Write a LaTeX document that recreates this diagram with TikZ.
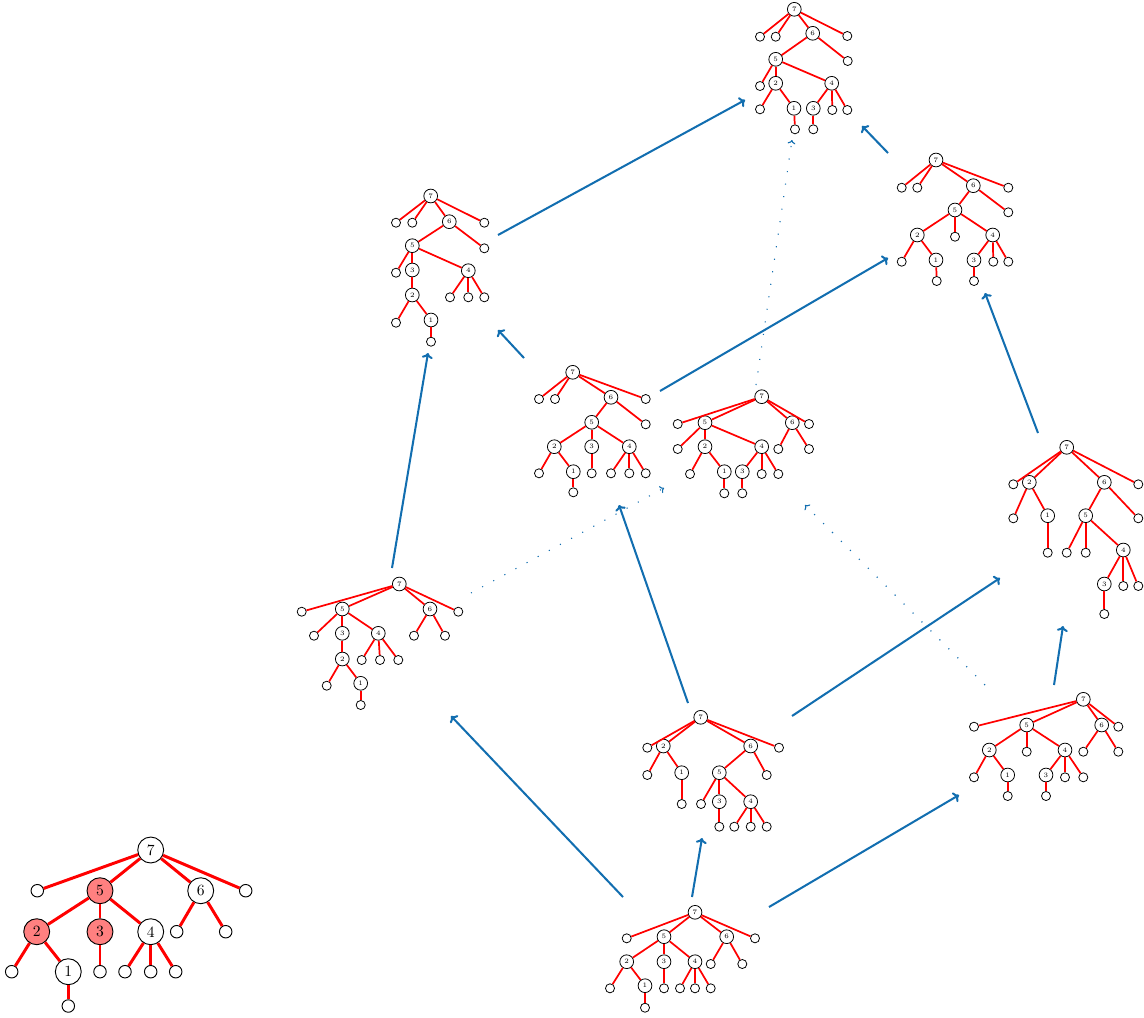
\documentclass[tikz,border=0pt]{standalone}
\usetikzlibrary{arrows.meta}
\definecolor{arrblue}{RGB}{18,110,176}
\tikzset{
  sn/.style={circle,draw,line width=0.5pt,minimum size=8.8pt,inner sep=0pt,fill=white,font=\fontsize{4.3}{5}\selectfont},
  sl/.style={circle,draw,line width=0.5pt,minimum size=5.8pt,inner sep=0pt,fill=white},
  bn/.style={circle,draw,line width=0.6pt,minimum size=16.6pt,inner sep=0pt,fill=white},
  bl/.style={circle,draw,line width=0.6pt,minimum size=8pt,inner sep=0pt,fill=white},
  hl/.style={fill=red!50},
  se/.style={red,line width=1.1pt},
  be/.style={red,line width=1.9pt},
  sarr/.style={arrblue,line width=1.3pt,-{To[length=3.5pt,width=7pt]}},
  darr/.style={arrblue,line width=0.7pt,dash pattern=on 0.7pt off 7.4pt,-{To[length=2.5pt,width=5pt]}},
}
\newcommand\mkN[4]{\node[sn] (#1) at (#2,#3) {#4};}
\newcommand\mkL[3]{\node[sl] (#1) at (#2,#3) {};}
\begin{document}
\begin{tikzpicture}[x=0.64pt,y=-0.64pt]
\useasboundingbox (0,0) rectangle (1144,1017);

% ---------- Tree T (top)
\mkN{T7}{794.3}{9.3}{7}
\mkL{Ta}{760}{36.7}
\mkL{Tb}{775.7}{36.7}
\mkN{T6}{812.7}{33.3}{6}
\mkL{Tc}{847.3}{36}
\mkN{T5}{775.7}{59.3}{5}
\mkL{Td}{847.7}{61}
\mkL{Te}{760}{86}
\mkN{T2}{775.7}{83.3}{2}
\mkN{T4}{831.7}{83.3}{4}
\mkL{Tf}{760}{109.3}
\mkN{T1}{794}{108.3}{1}
\mkN{T3}{813.3}{108.3}{3}
\mkL{Tg}{832.3}{110}
\mkL{Th}{847.3}{110}
\mkL{Ti}{795}{129.3}
\mkL{Tj}{813.3}{129.3}
\foreach \a/\b in {T7/Ta,T7/Tb,T7/T6,T7/Tc,T6/T5,T6/Td,T5/Te,T5/T2,T5/T4,T2/Tf,T2/T1,T1/Ti,T4/T3,T4/Tg,T4/Th,T3/Tj}
  \draw[se] (\a) -- (\b);

% ---------- Tree U (upper right)
\mkN{U7}{936}{160}{7}
\mkL{Ua}{901.7}{187.7}
\mkL{Ub}{917.3}{187.7}
\mkN{U6}{973.3}{185.7}{6}
\mkL{Uc}{1008.3}{187.7}
\mkN{U5}{955}{210}{5}
\mkL{Ud}{1008.3}{212.3}
\mkN{U2}{917.3}{235}{2}
\mkL{Ue}{955}{236.7}
\mkN{U4}{992.7}{235}{4}
\mkL{Uf}{901.7}{261.7}
\mkN{U1}{936}{260}{1}
\mkN{U3}{974}{260}{3}
\mkL{Ug}{993.3}{261.7}
\mkL{Uh}{1008.3}{261.7}
\mkL{Ui}{936.7}{281}
\mkL{Uj}{974}{281}
\foreach \a/\b in {U7/Ua,U7/Ub,U7/U6,U7/Uc,U6/U5,U6/Ud,U5/U2,U5/Ue,U5/U4,U2/Uf,U2/U1,U1/Ui,U4/U3,U4/Ug,U4/Uh,U3/Uj}
  \draw[se] (\a) -- (\b);

% ---------- Tree L (left upper)
\mkN{L7}{430.7}{196}{7}
\mkL{La}{396}{222.7}
\mkL{Lb}{412.3}{222.7}
\mkN{L6}{449.3}{221.7}{6}
\mkL{Lc}{484.3}{222.7}
\mkN{L5}{412.3}{245.7}{5}
\mkL{Ld}{484.3}{248.3}
\mkL{Le}{396}{272.7}
\mkN{L3}{412.3}{270}{3}
\mkN{L4}{468.3}{270.7}{4}
\mkN{L2}{412.3}{295}{2}
\mkL{Lf}{450}{297.3}
\mkL{Lg}{468.3}{297.3}
\mkL{Lh}{484.3}{297.3}
\mkL{Li}{396}{322.7}
\mkN{L1}{431}{320}{1}
\mkL{Lj}{431}{341.7}
\foreach \a/\b in {L7/La,L7/Lb,L7/L6,L7/Lc,L6/L5,L6/Ld,L5/Le,L5/L3,L5/L4,L3/L2,L4/Lf,L4/Lg,L4/Lh,L2/Li,L2/L1,L1/Lj}
  \draw[se] (\a) -- (\b);

% ---------- Tree M (middle)
\mkN{M7}{572.7}{372.3}{7}
\mkL{Ma}{539}{399}
\mkL{Mb}{555}{399}
\mkN{M6}{611}{397.3}{6}
\mkL{Mc}{645.7}{399}
\mkN{M5}{591.7}{422.3}{5}
\mkL{Md}{645.7}{424.3}
\mkN{M2}{554.3}{446.7}{2}
\mkN{M3}{591.7}{446.7}{3}
\mkN{M4}{629.3}{446.7}{4}
\mkL{Me}{539}{473.3}
\mkN{M1}{573.3}{471.7}{1}
\mkL{Mf}{591.7}{473.3}
\mkL{Mg}{611}{473.3}
\mkL{Mh}{629.3}{473.3}
\mkL{Mi}{645.7}{473.3}
\mkL{Mj}{573.3}{492.3}
\foreach \a/\b in {M7/Ma,M7/Mb,M7/M6,M7/Mc,M6/M5,M6/Md,M5/M2,M5/M3,M5/M4,M2/Me,M2/M1,M1/Mj,M3/Mf,M4/Mg,M4/Mh,M4/Mi}
  \draw[se] (\a) -- (\b);

% ---------- Tree N (middle right)
\mkN{N7}{761.7}{396.7}{7}
\mkL{Na}{677.7}{424}
\mkN{N5}{705}{422.7}{5}
\mkN{N6}{792.3}{422.7}{6}
\mkL{Nb}{809}{424}
\mkL{Nc}{677.7}{449}
\mkN{N2}{705}{446.7}{2}
\mkN{N4}{761.7}{446.7}{4}
\mkL{Nd}{778.3}{449}
\mkL{Ne}{809}{449}
\mkL{Nf}{690}{474}
\mkN{N1}{724.3}{471.7}{1}
\mkN{N3}{742.3}{471.7}{3}
\mkL{Ng}{761.7}{474}
\mkL{Nh}{778.3}{474}
\mkL{Ni}{724.3}{493.3}
\mkL{Nj}{742.3}{493.3}
\foreach \a/\b in {N7/Na,N7/N5,N7/N6,N7/Nb,N5/Nc,N5/N2,N5/N4,N6/Nd,N6/Ne,N2/Nf,N2/N1,N1/Ni,N4/N3,N4/Ng,N4/Nh,N3/Nj}
  \draw[se] (\a) -- (\b);

% ---------- Tree R (right)
\mkN{R7}{1066.7}{447.3}{7}
\mkL{Ra}{1013.3}{484.3}
\mkN{R2}{1029.3}{482.3}{2}
\mkN{R6}{1104.3}{482.3}{6}
\mkL{Rb}{1138.3}{484.3}
\mkL{Rc}{1013.3}{518.3}
\mkN{R1}{1047.7}{515.7}{1}
\mkN{R5}{1085.7}{515.7}{5}
\mkL{Rd}{1138.3}{518.3}
\mkL{Re}{1047.7}{552.7}
\mkL{Rf}{1066.7}{552.7}
\mkL{Rg}{1085.7}{552.7}
\mkN{R4}{1123.3}{550}{4}
\mkN{R3}{1104.3}{584}{3}
\mkL{Rh}{1123.3}{586}
\mkL{Ri}{1138.3}{586}
\mkL{Rj}{1104.3}{614}
\foreach \a/\b in {R7/Ra,R7/R2,R7/R6,R7/Rb,R2/Rc,R2/R1,R1/Re,R6/R5,R6/Rd,R5/Rf,R5/Rg,R5/R4,R4/R3,R4/Rh,R4/Ri,R3/Rj}
  \draw[se] (\a) -- (\b);

% ---------- Tree P (left lower)
\mkN{P7}{399.3}{584}{7}
\mkL{Pa}{301.7}{611.7}
\mkN{P5}{342.3}{609}{5}
\mkN{P6}{430}{609}{6}
\mkL{Pb}{458.3}{611.7}
\mkL{Pc}{314}{635.7}
\mkN{P3}{342.3}{633.3}{3}
\mkN{P4}{378.3}{633.3}{4}
\mkL{Pd}{414}{635.7}
\mkL{Pe}{445}{635.7}
\mkN{P2}{342.3}{659}{2}
\mkL{Pf}{361.7}{660}
\mkL{Pg}{380}{660}
\mkL{Ph}{398.3}{660}
\mkL{Pi}{326.7}{685.7}
\mkN{P1}{360.7}{683.3}{1}
\mkL{Pj}{360.7}{705}
\foreach \a/\b in {P7/Pa,P7/P5,P7/P6,P7/Pb,P5/Pc,P5/P3,P5/P4,P6/Pd,P6/Pe,P3/P2,P4/Pf,P4/Pg,P4/Ph,P2/Pi,P2/P1,P1/Pj}
  \draw[se] (\a) -- (\b);

% ---------- Tree C (bottom centre)
\mkN{C7}{700.7}{717.3}{7}
\mkL{Ca}{647.3}{747.7}
\mkN{C2}{663.3}{746}{2}
\mkN{C6}{750.7}{746}{6}
\mkL{Cb}{779}{747.7}
\mkL{Cc}{647.3}{775}
\mkN{C1}{681.7}{772.7}{1}
\mkN{C5}{719.3}{772.7}{5}
\mkL{Cd}{766.7}{775}
\mkL{Ce}{681.7}{804}
\mkL{Cf}{701}{804}
\mkN{C3}{719.3}{801.7}{3}
\mkN{C4}{750.7}{801.7}{4}
\mkL{Cg}{719.3}{826.7}
\mkL{Ch}{734.3}{826.7}
\mkL{Ci}{750.7}{826.7}
\mkL{Cj}{766.7}{826.7}
\foreach \a/\b in {C7/Ca,C7/C2,C7/C6,C7/Cb,C2/Cc,C2/C1,C1/Ce,C6/C5,C6/Cd,C5/Cf,C5/C3,C5/C4,C3/Cg,C4/Ch,C4/Ci,C4/Cj}
  \draw[se] (\a) -- (\b);

% ---------- Tree Q (bottom right)
\mkN{Q7}{1083.3}{699.3}{7}
\mkL{Qa}{974}{726.7}
\mkN{Q5}{1026.7}{725}{5}
\mkN{Q6}{1101.7}{725}{6}
\mkL{Qb}{1118.3}{726.7}
\mkN{Q2}{989.3}{750}{2}
\mkL{Qc}{1026.7}{751.7}
\mkN{Q4}{1065}{750}{4}
\mkL{Qd}{1083.3}{751.7}
\mkL{Qe}{1118.3}{751.7}
\mkL{Qf}{974}{777.3}
\mkN{Q1}{1007.7}{775}{1}
\mkN{Q3}{1046}{775}{3}
\mkL{Qg}{1065}{777.3}
\mkL{Qh}{1083.3}{777.3}
\mkL{Qi}{1007.7}{796}
\mkL{Qj}{1046}{796}
\foreach \a/\b in {Q7/Qa,Q7/Q5,Q7/Q6,Q7/Qb,Q5/Q2,Q5/Qc,Q5/Q4,Q6/Qd,Q6/Qe,Q2/Qf,Q2/Q1,Q1/Qi,Q4/Q3,Q4/Qg,Q4/Qh,Q3/Qj}
  \draw[se] (\a) -- (\b);

% ---------- Tree B (bottom)
\mkN{B7}{695}{912.3}{7}
\mkL{Ba}{626.7}{938.3}
\mkN{B5}{664}{936.7}{5}
\mkN{B6}{726.7}{936.7}{6}
\mkL{Bb}{755}{938.3}
\mkN{B2}{626.7}{961.7}{2}
\mkN{B3}{664}{961.7}{3}
\mkN{B4}{695}{961.7}{4}
\mkL{Bc}{710.7}{964}
\mkL{Bd}{742.3}{964}
\mkL{Be}{610}{988.3}
\mkN{B1}{645}{985.7}{1}
\mkL{Bf}{664}{988.3}
\mkL{Bg}{680}{988.3}
\mkL{Bh}{695}{988.3}
\mkL{Bi}{710.7}{988.3}
\mkL{Bj}{645}{1007.7}
\foreach \a/\b in {B7/Ba,B7/B5,B7/B6,B7/Bb,B5/B2,B5/B3,B5/B4,B6/Bc,B6/Bd,B2/Be,B2/B1,B1/Bj,B3/Bf,B4/Bg,B4/Bh,B4/Bi}
  \draw[se] (\a) -- (\b);

% ---------- Tree G (large, highlighted)
\node[bn] (G7) at (150.7,850) {7};
\node[bl] (Ga) at (37.3,890.7) {};
\node[bn,hl] (G5) at (100,890.7) {5};
\node[bn] (G6) at (200.7,890.7) {6};
\node[bl] (Gb) at (245.7,890.7) {};
\node[bn,hl] (G2) at (36.7,931.7) {2};
\node[bn,hl] (G3) at (100,931.7) {3};
\node[bn] (G4) at (150.7,931.7) {4};
\node[bl] (Gc) at (176.7,931.7) {};
\node[bl] (Gd) at (225.7,931.7) {};
\node[bl] (Ge) at (11.7,971.7) {};
\node[bn] (G1) at (68.3,971.7) {1};
\node[bl] (Gf) at (100,971.7) {};
\node[bl] (Gg) at (125,971.7) {};
\node[bl] (Gh) at (150.7,971.7) {};
\node[bl] (Gi) at (175.7,971.7) {};
\node[bl] (Gj) at (68.3,1006) {};
\foreach \a/\b in {G7/Ga,G7/G5,G7/G6,G7/Gb,G5/G2,G5/G3,G5/G4,G6/Gc,G6/Gd,G2/Ge,G2/G1,G1/Gj,G3/Gf,G4/Gg,G4/Gh,G4/Gi}
  \draw[be] (\a) -- (\b);

% ---------- arrow end points
\coordinate (LtoTs) at (498,235);   \coordinate (LtoTe) at (745,100);
\coordinate (UtoTs) at (888,153);   \coordinate (UtoTe) at (862,126);
\coordinate (PtoLs) at (392,568);   \coordinate (PtoLe) at (428,353);
\coordinate (MtoLs) at (524,358);   \coordinate (MtoLe) at (498,330);
\coordinate (MtoUs) at (660,391);   \coordinate (MtoUe) at (888,258);
\coordinate (RtoUs) at (1038,433);  \coordinate (RtoUe) at (985,293);
\coordinate (CtoMs) at (688,703);   \coordinate (CtoMe) at (619,505);
\coordinate (CtoRs) at (792,716);   \coordinate (CtoRe) at (1000,578);
\coordinate (QtoRs) at (1054,685);  \coordinate (QtoRe) at (1063,626);
\coordinate (BtoPs) at (623,897);   \coordinate (BtoPe) at (451,716);
\coordinate (BtoCs) at (692,897);   \coordinate (BtoCe) at (702,838);
\coordinate (BtoQs) at (769,907);   \coordinate (BtoQe) at (959,795);
\coordinate (PtoNs) at (471,593);   \coordinate (PtoNe) at (664,488);
\coordinate (NtoTs) at (756,385);   \coordinate (NtoTe) at (792,140);
\coordinate (QtoNs) at (985,685);   \coordinate (QtoNe) at (805,505);

\foreach \a in {LtoT,UtoT,PtoL,MtoL,MtoU,RtoU,CtoM,CtoR,QtoR,BtoP,BtoC,BtoQ}
  \draw[sarr] (\a s) -- (\a e);
\foreach \a in {PtoN,NtoT,QtoN}
  \draw[darr] (\a s) -- (\a e);
\end{tikzpicture}
\end{document}
